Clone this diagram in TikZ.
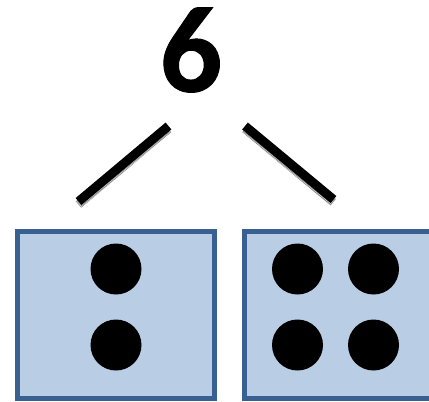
\documentclass[tikz,border=0pt]{standalone}
\usepackage{fontspec}
\setmainfont{Carlito}
\newfontfamily\numfont[FakeBold=0.8]{Carlito Bold}
\definecolor{boxfill}{HTML}{B9CDE5}
\definecolor{boxline}{HTML}{386192}
\tikzset{
  px/.style={x=1pt,y=-1pt},
  tenbox/.style={draw=boxline,line width=5.5pt,fill=boxfill,miter limit=10},
  dot/.style={circle,fill=black,draw=none,minimum size=51pt,inner sep=0pt},
  branch/.style={draw=black,line width=9pt},
  branchshadow/.style={draw=black!45,line width=8.5pt,dash pattern=on 1pt off 0.6pt},
  numeral/.style={font=\fontsize{123}{123}\selectfont\numfont,inner sep=0pt,text=black}
}
\begin{document}
\begin{tikzpicture}[px]
\useasboundingbox (0,0) rectangle (429,402);
\clip (0,0) rectangle (429,402);
\path[tenbox] (17.5,231.5) rectangle (214.5,398.5);
\path[tenbox] (244.5,231.5) rectangle (445,398.5);
\node[numeral] (six) at (191,50) {6};
\node[dot] (a1) at (116,269) {};
\node[dot] (a2) at (116,345) {};
\node[dot] (b1) at (297.5,269) {};
\node[dot] (b2) at (373.5,269) {};
\node[dot] (b3) at (297.5,345) {};
\node[dot] (b4) at (373.5,345) {};
\coordinate (l1) at (168.5,126);
\coordinate (l2) at (78.5,201.5);
\coordinate (r1) at (245,126);
\coordinate (r2) at (333.5,199.5);
\path[branchshadow] ([yshift=-3pt]l1) -- ([yshift=-3pt]l2);
\path[branchshadow] ([yshift=-3pt]r1) -- ([yshift=-3pt]r2);
\path[branch] (l1) -- (l2);
\path[branch] (r1) -- (r2);
\end{tikzpicture}
\end{document}
